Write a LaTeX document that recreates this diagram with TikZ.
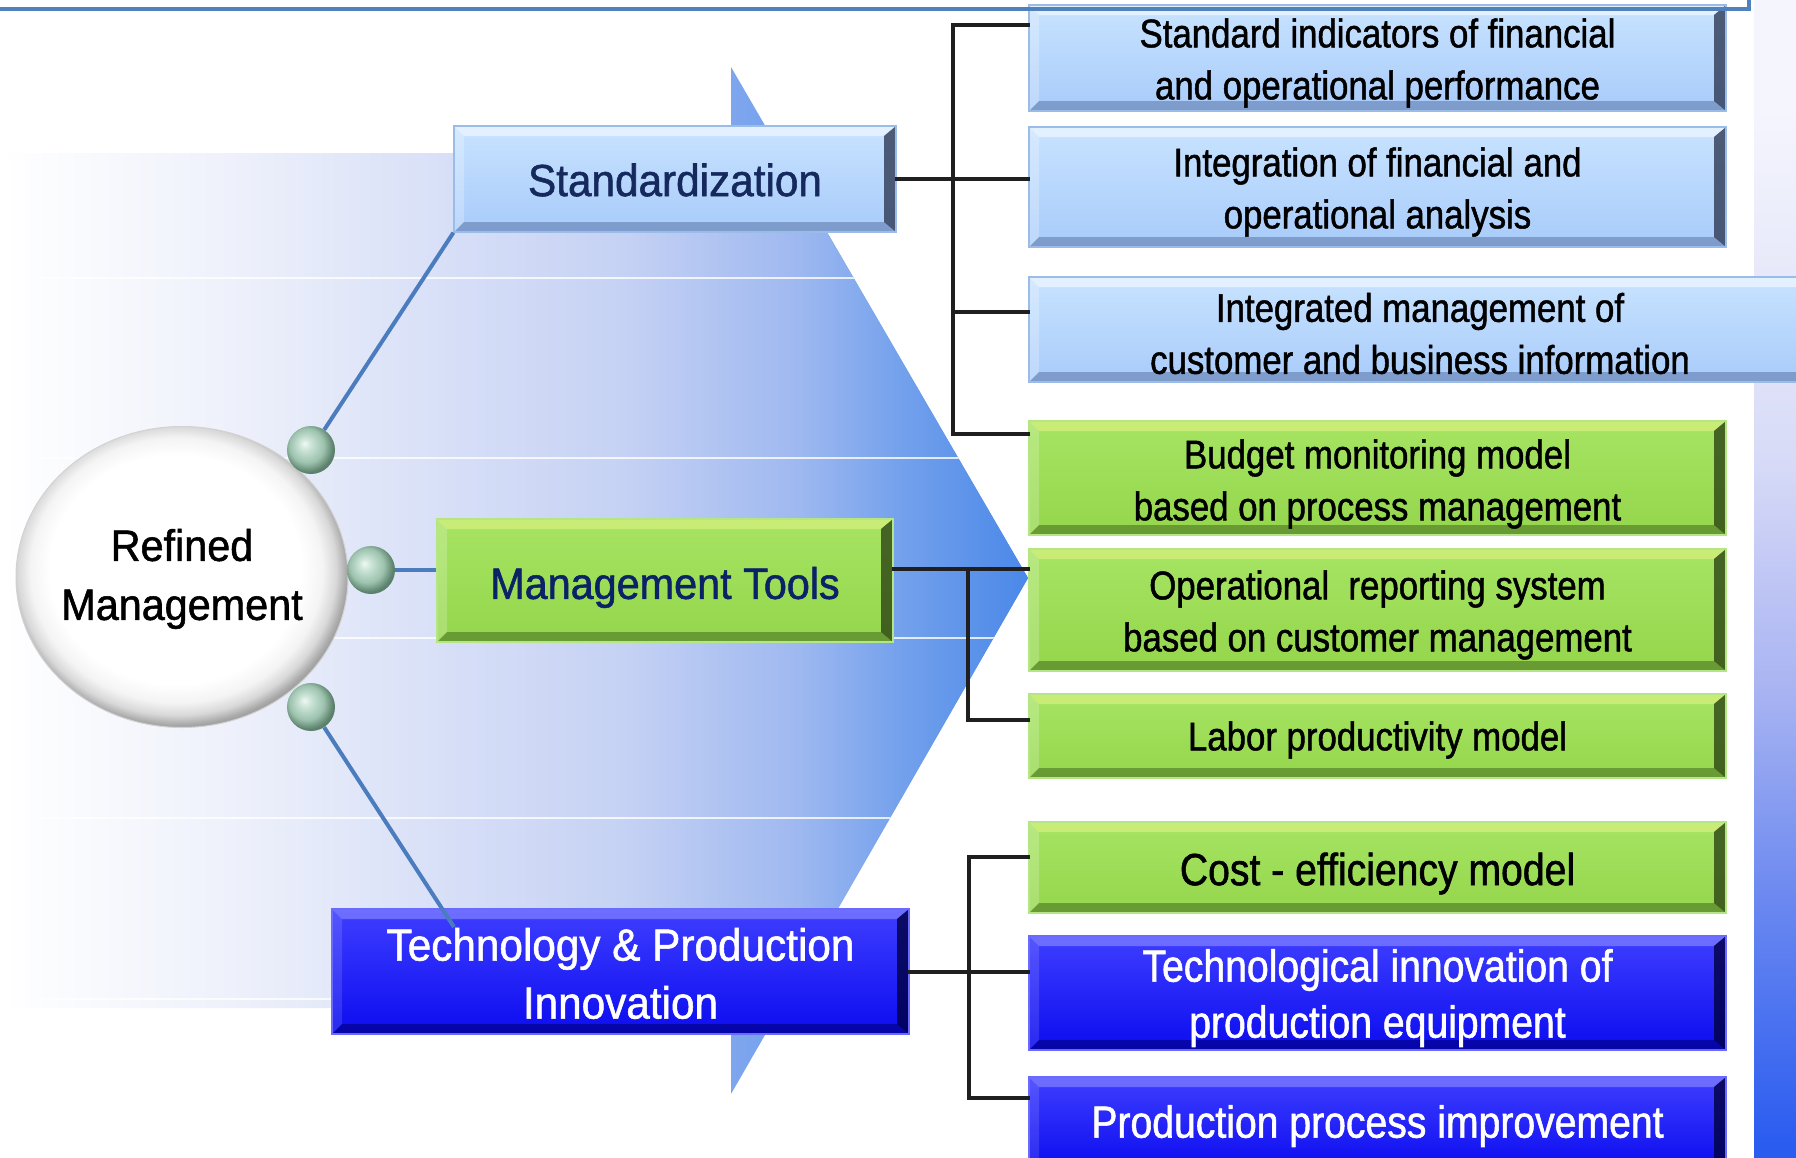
\documentclass[tikz,border=0pt]{standalone}
\usepackage{fontspec}
\setmainfont{Liberation Sans}[FakeStretch=0.87,FakeBold=1.2]
\newfontfamily\widefont{Liberation Sans}[FakeStretch=0.94,FakeBold=1.2]
\usetikzlibrary{shapes.geometric}
\definecolor{bA}{HTML}{EEF1FB}
\definecolor{bB}{HTML}{D6DEF7}
\definecolor{bC}{HTML}{C6D2F4}
\definecolor{bD}{HTML}{9EB8F0}
\definecolor{bE}{HTML}{72A0EC}
\definecolor{bF}{HTML}{4A88E8}
\definecolor{triL}{HTML}{7EA6EE}
\definecolor{sA}{HTML}{F5F6FD}
\definecolor{sB}{HTML}{D8DBF7}
\definecolor{sC}{HTML}{A9B4F2}
\definecolor{sD}{HTML}{6685F0}
\definecolor{sE}{HTML}{2A5CF0}
\definecolor{rmA}{HTML}{F4F4F4}
\definecolor{rmB}{HTML}{D8D8D8}
\definecolor{rmC}{HTML}{A8A8A8}
\definecolor{rmD}{HTML}{8E8E8E}
\definecolor{ballA}{HTML}{F0F8F4}
\definecolor{ballB}{HTML}{C8E2D4}
\definecolor{ballC}{HTML}{9CC2AE}
\definecolor{ballD}{HTML}{5E8470}
\definecolor{ballE}{HTML}{4F7360}
\definecolor{lbT}{HTML}{C8E3FF}
\definecolor{lbB}{HTML}{A8CBFA}
\definecolor{lbE}{HTML}{9CBCE8}
\definecolor{lbD}{HTML}{5A75A8}
\definecolor{lbR}{HTML}{2E3A55}
\definecolor{grT}{HTML}{A6E462}
\definecolor{grB}{HTML}{94D64C}
\definecolor{grE}{HTML}{B5E685}
\definecolor{grD}{HTML}{4C7424}
\definecolor{grR}{HTML}{2E4414}
\definecolor{blT}{HTML}{3E3EFF}
\definecolor{blB}{HTML}{0C0CF0}
\definecolor{blE}{HTML}{6A6AFF}
\definecolor{blD}{HTML}{00007A}
\definecolor{blR}{HTML}{000040}
\definecolor{stdnavy}{HTML}{15295C}
\definecolor{mtnavy}{HTML}{0B2266}
\definecolor{linkblue}{HTML}{4A7CBE}
\definecolor{topblue}{HTML}{4F81BD}
\pgfdeclarehorizontalshading{bandsh}{100bp}{color(0bp)=(white); color(25bp)=(white); color(36.2bp)=(bA); color(47.4bp)=(bB); color(55.2bp)=(bC); color(63.9bp)=(bD); color(69bp)=(bE); color(75bp)=(bF); color(100bp)=(bF)}
\pgfdeclareverticalshading{stripsh}{100bp}{color(0bp)=(sE); color(25.5bp)=(sE); color(35.4bp)=(sD); color(45.3bp)=(sC); color(55.2bp)=(sB); color(70.7bp)=(sA); color(100bp)=(sA)}
\pgfdeclareradialshading{rmshade}{\pgfpoint{-1.5bp}{2bp}}{color(0bp)=(white); color(19bp)=(white); color(22bp)=(rmA); color(24bp)=(rmB); color(25.5bp)=(rmC); color(27bp)=(rmD); color(50bp)=(rmD)}
\pgfdeclareradialshading{ballsh}{\pgfpoint{-7bp}{7bp}}{color(0bp)=(ballA); color(7bp)=(ballB); color(18bp)=(ballC); color(26bp)=(ballD); color(32bp)=(ballE); color(50bp)=(ballE)}
\newcommand\fsz[2]{\fontsize{#1}{#2}\selectfont}
\begin{document}
\begin{tikzpicture}[x=1pt,y=-1pt,
  bevel/.style n args={4}{path picture={
    \path (path picture bounding box.north west) coordinate (pNW)
          (path picture bounding box.north east) coordinate (pNE)
          (path picture bounding box.south west) coordinate (pSW)
          (path picture bounding box.south east) coordinate (pSE);
    \fill[#1] (pNW) -- (pNE) -- ([shift={(-12pt,-10pt)}]pNE) -- ([shift={(10pt,-10pt)}]pNW) -- cycle;
    \fill[#2] (pNW) -- ([shift={(10pt,-10pt)}]pNW) -- ([shift={(10pt,10pt)}]pSW) -- (pSW) -- cycle;
    \fill[#3] (pSW) -- (pSE) -- ([shift={(-12pt,10pt)}]pSE) -- ([shift={(10pt,10pt)}]pSW) -- cycle;
    \fill[#4] (pNE) -- (pSE) -- ([shift={(-12pt,10pt)}]pSE) -- ([shift={(-12pt,-10pt)}]pNE) -- cycle;
  }},
  box/.style={inner sep=0pt, line width=1.2pt},
  lbbox/.style={box, draw=lbE, top color=lbT, bottom color=lbB,
     bevel={white,opacity=.5}{white,opacity=.25}{lbD,opacity=.55}{lbR,opacity=.8}},
  grbox/.style={box, draw=grE, top color=grT, bottom color=grB,
     bevel={yellow!40!white,opacity=.4}{white,opacity=.2}{grD,opacity=.6}{grR,opacity=.8}},
  blbox/.style={box, draw=blE, top color=blT, bottom color=blB,
     bevel={white,opacity=.25}{white,opacity=.12}{blD,opacity=.6}{blR,opacity=.8}},
  lbl/.style={inner sep=0pt, align=center},
  rtext/.style={lbl, text=black, font=\fsz{40}{52}},
  rbig/.style={lbl, font=\fsz{45}{56}},
  main/.style={lbl, font=\widefont\fsz{45}{58}},
  ball/.style={circle, minimum size=48pt, inner sep=0pt, shade, shading=ballsh},
  bline/.style={line width=4pt, color=linkblue},
  tree/.style={line width=4pt, color=black!88, line cap=rect}
]
\useasboundingbox (0,0) rectangle (1796,1157);
\fill[white] (0,0) rectangle (1796,1157);
% right strip
\shade[shading=stripsh] (1754,0) rectangle (1796,1157);
% arrow background
\shade[left color=triL, right color=bF] (731,67) -- (1028,578) -- (731,1094) -- cycle;
\shade[shading=bandsh] (0,153) -- (781,153) -- (1028,578) -- (781,1008) -- (0,1008) -- cycle;
\begin{scope}
  \clip (0,153) -- (781,153) -- (1028,578) -- (781,1008) -- (0,1008) -- cycle;
  \foreach \yy in {278,458,638,818,999}
    \draw[white, line width=1.5pt, opacity=.8] (40,\yy) -- (1100,\yy);
\end{scope}

% central ellipse and balls
\node[ellipse, minimum width=332pt, minimum height=301pt, inner sep=0pt, shade, shading=rmshade,
      draw=gray!35, line width=1pt] (rm) at (182,577) {};
\node[main, font=\widefont\fsz{44}{59}, text=black] (rmt) at ([yshift=-2pt]rm.center) {Refined\\Management};
\node[ball] (b1) at (311,450) {};
\node[ball] (b2) at (371,570) {};
\node[ball] (b3) at (311,707) {};

% main category boxes
\node[lbbox, minimum width=442pt, minimum height=106pt] (stand) at (675,179) {};
\node[main, text=stdnavy] (standt) at ([yshift=-1pt]stand.center) {Standardization};
\node[grbox, minimum width=456pt, minimum height=123pt] (mt) at (665,580.5) {};
\node[main, font=\widefont\fsz{44}{58}, text=mtnavy] (mtt) at ([yshift=-7pt]mt.center) {Management Tools};
\node[blbox, minimum width=577pt, minimum height=125pt] (tech) at (620.5,971.5) {};
\node[main, text=white] (techt) at ([yshift=-2pt]tech.center) {Technology \& Production\\Innovation};

% right boxes
\node[lbbox, minimum width=697pt, minimum height=106pt] (r1) at (1377.5,58) {};
\node[rtext] (r1t) at ([yshift=-5pt]r1.center) {Standard indicators of financial\\and operational performance};
\node[lbbox, minimum width=697pt, minimum height=120pt] (r2) at (1377.5,187) {};
\node[rtext] (r2t) at ([yshift=-5pt]r2.center) {Integration of financial and\\operational analysis};
\node[lbbox, minimum width=782pt, minimum height=105pt] (r3) at (1420,329.5) {};
\node[rtext] (r3t) at ([yshift=-4pt]r3.center) {Integrated management of\\customer and business information};
\node[grbox, minimum width=697pt, minimum height=114pt] (r4) at (1377.5,478) {};
\node[rtext] (r4t) at ([yshift=-6pt]r4.center) {Budget monitoring model\\based on process management};
\node[grbox, minimum width=697pt, minimum height=122pt] (r5) at (1377.5,610) {};
\node[rtext] (r5t) at ([yshift=-5pt]r5.center) {Operational\ \ reporting system\\based on customer management};
\node[grbox, minimum width=697pt, minimum height=84pt] (r6) at (1377.5,736) {};
\node[rtext] (r6t) at ([yshift=-4pt]r6.center) {Labor productivity model};
\node[grbox, minimum width=697pt, minimum height=91pt] (r7) at (1377.5,867.5) {};
\node[rbig, text=black] (r7t) at ([yshift=-6pt]r7.center) {Cost - efficiency model};
\node[blbox, minimum width=697pt, minimum height=114pt] (r8) at (1377.5,993) {};
\node[rbig, text=white] (r8t) at ([yshift=-5pt]r8.center) {Technological innovation of\\production equipment};
\node[blbox, minimum width=697pt, minimum height=92pt] (r9) at (1377.5,1123) {};
\node[rbig, text=white] (r9t) at ([yshift=-3pt]r9.center) {Production process improvement};

% blue links from the centre
\coordinate (t3) at (454,927);
\draw[bline] (b1) -- (stand.south west);
\draw[bline] (b2) -- (b2 -| mt.west);
\draw[bline] (b3) -- (t3);

% tree connectors
\coordinate (ta) at (953,25);
\coordinate (tc) at (953,312);
\coordinate (tb) at (953,434);
\draw[tree] (ta -| r1.west) -- (ta) -- (tb) -- (tb -| r4.west);
\draw[tree] (tc) -- (tc -| r3.west);
\draw[tree] (stand.east) -- (stand.east -| r2.west);

\coordinate (ma) at (968,569);
\coordinate (mb) at (968,720);
\draw[tree] (ma -| mt.east) -- (ma -| r5.west);
\draw[tree] (ma) -- (mb) -- (mb -| r6.west);

\coordinate (qa) at (969,857);
\coordinate (qb) at (969,1098);
\draw[tree] (qa -| r7.west) -- (qa) -- (qb) -- (qb -| r9.west);
\draw[tree] (tech.east) -- (tech.east -| r8.west);

% top border
\draw[line width=4.5pt, color=topblue] (0,9) -- (1749,9) -- (1749,0);
\end{tikzpicture}
\end{document}
